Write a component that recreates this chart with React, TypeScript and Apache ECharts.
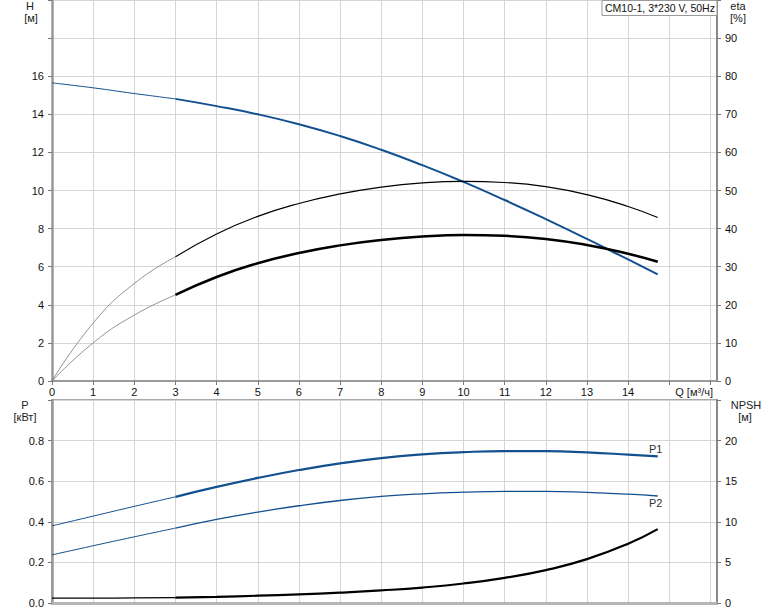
import React, { useEffect, useRef } from "react";
import * as echarts from "echarts";

// Flow rate Q [m³/h]
const qStart = [0, 1, 2, 3];
const qMain = [3, 4, 5, 6, 7, 8, 9, 10, 11, 12, 13, 14, 14.72];

// Head H [m]
const headStart = [15.65, 15.39, 15.09, 14.81];
const headMain = [14.81, 14.43, 14.0, 13.48, 12.86, 12.14, 11.33, 10.45, 9.5, 8.5, 7.46, 6.38, 5.6];

// Efficiency eta [%] (upper thin curve and lower thick curve)
const etaUpperStart = [0, 15.2, 25.6, 32.6];
const etaUpperMain = [32.6, 38.6, 43.2, 46.6, 49.1, 50.9, 52.0, 52.4, 52.1, 51.0, 48.9, 45.8, 42.9];
const etaLowerStart = [0, 10.0, 17.3, 22.6];
const etaLowerMain = [22.6, 27.3, 30.9, 33.6, 35.6, 37.0, 37.9, 38.3, 38.1, 37.3, 35.7, 33.4, 31.3];

// Power P [kW]
const p1Start = [0.38, 0.428, 0.476, 0.523];
const p1Main = [0.523, 0.572, 0.616, 0.655, 0.688, 0.714, 0.732, 0.743, 0.748, 0.748, 0.742, 0.731, 0.722];
const p2Start = [0.237, 0.282, 0.326, 0.369];
const p2Main = [0.369, 0.412, 0.448, 0.479, 0.505, 0.525, 0.538, 0.546, 0.55, 0.55, 0.545, 0.536, 0.527];

// NPSH [m]
const npshStart = [0.6, 0.6, 0.62, 0.66];
const npshMain = [0.66, 0.76, 0.9, 1.07, 1.28, 1.55, 1.9, 2.4, 3.1, 4.05, 5.4, 7.3, 9.1];

const xTickLabels = ["0", "1", "2", "3", "4", "5", "6", "7", "8", "9", "10", "11", "12", "13", "14"];

const title = "CM10-1, 3*230 V, 50Hz";
const FONT = "Liberation Sans, Arial, sans-serif";
const BLUE = "#13508f";

const zip = (xs: number[], ys: number[]) => xs.map((x, i) => [x, ys[i]]);

function line(name: string, xi: number, yi: number, xs: number[], ys: number[], color: string, width: number) {
  return {
    name,
    type: "line",
    xAxisIndex: xi,
    yAxisIndex: yi,
    data: zip(xs, ys),
    symbol: "none",
    smooth: 0.5,
    lineStyle: { color, width },
    silent: true,
    z: 3,
  };
}

export default function App() {
  const ref = useRef<HTMLDivElement>(null);
  useEffect(() => {
    if (!ref.current) return;
    const chart = echarts.init(ref.current, null, { renderer: "svg" });
    const labelStyle = { fontSize: 11, color: "#111", fontFamily: FONT };
    const split = { show: true, lineStyle: { color: "#d6d6d6", width: 1 } };
    const xLabel = (v: number) => (Number.isInteger(v) && v <= 14 ? xTickLabels[v] : "");

    const text = (x: number, y: number, t: string, align = "center") => ({
      type: "text",
      x,
      y,
      style: { text: t, fontSize: 11, fill: "#222", fontFamily: FONT, align, verticalAlign: "middle" },
      z: 50,
    });

    const option: any = {
      animation: false,
      backgroundColor: "#fff",
      grid: [
        { left: 52, right: 57, top: 0, height: 381 },
        { left: 52, right: 57, top: 400, height: 203, show: true, borderColor: "#a8a8a8", borderWidth: 2, backgroundColor: "transparent" },
      ],
      xAxis: [
        {
          type: "value", gridIndex: 0, min: 0, max: 16.16, interval: 1,
          axisLine: { show: true, onZero: false, lineStyle: { color: "#9a9a9a", width: 2 } },
          axisTick: { show: true, length: 4, lineStyle: { color: "#777" } },
          axisLabel: { ...labelStyle, margin: 5, formatter: xLabel, showMaxLabel: false },
          splitLine: split,
        },
        {
          type: "value", gridIndex: 1, min: 0, max: 16.16, interval: 1,
          axisLine: { show: true, onZero: false, lineStyle: { color: "#b5b5b5", width: 3 } },
          axisTick: { show: false },
          axisLabel: { show: false },
          splitLine: split,
        },
      ],
      yAxis: [
        {
          type: "value", gridIndex: 0, position: "left", min: 0, max: 20, interval: 2,
          axisLine: { show: true, lineStyle: { color: "#999", width: 2.5 } },
          axisTick: { show: true, length: 4, lineStyle: { color: "#777" } },
          axisLabel: { ...labelStyle, margin: 8, formatter: (v: number) => (v <= 16 ? String(v) : "") },
          splitLine: split,
        },
        {
          type: "value", gridIndex: 0, position: "right", min: 0, max: 100, interval: 10,
          axisLine: { show: true, lineStyle: { color: "#8a8a8a", width: 2 } },
          axisTick: { show: true, length: 4, lineStyle: { color: "#777" } },
          axisLabel: { ...labelStyle, margin: 8, formatter: (v: number) => (v <= 90 ? String(v) : "") },
          splitLine: { show: false },
        },
        {
          type: "value", gridIndex: 1, position: "left", min: 0, max: 1, interval: 0.2,
          axisLine: { show: true, lineStyle: { color: "#999", width: 2.5 } },
          axisTick: { show: true, length: 4, lineStyle: { color: "#777" } },
          axisLabel: { ...labelStyle, margin: 8, formatter: (v: number) => (v <= 0.9 ? v.toFixed(1) : "") },
          splitLine: split,
        },
        {
          type: "value", gridIndex: 1, position: "right", min: 0, max: 25, interval: 5,
          axisLine: { show: true, lineStyle: { color: "#8a8a8a", width: 2 } },
          axisTick: { show: true, length: 4, lineStyle: { color: "#777" } },
          axisLabel: { ...labelStyle, margin: 8, formatter: (v: number) => (v <= 20 ? String(v) : "") },
          splitLine: { show: false },
        },
      ],
      series: [
        line("H", 0, 0, qStart, headStart, BLUE, 1),
        line("H", 0, 0, qMain, headMain, BLUE, 2),
        line("eta1", 0, 1, qStart, etaUpperStart, "#777", 0.8),
        line("eta1", 0, 1, qMain, etaUpperMain, "#000", 1.2),
        line("eta2", 0, 1, qStart, etaLowerStart, "#777", 0.8),
        line("eta2", 0, 1, qMain, etaLowerMain, "#000", 2.5),
        line("P1", 1, 2, qStart, p1Start, BLUE, 1),
        line("P1", 1, 2, qMain, p1Main, BLUE, 2.2),
        line("P2", 1, 2, qStart, p2Start, BLUE, 1),
        line("P2", 1, 2, qMain, p2Main, BLUE, 1.3),
        line("NPSH", 1, 3, qStart, npshStart, "#000", 1.2),
        line("NPSH", 1, 3, qMain, npshMain, "#000", 2.2),
      ],
      graphic: [
        text(30, 6, "H"),
        text(31, 18, "[м]"),
        text(738, 6, "eta"),
        text(738, 18, "[%]"),
        text(25, 405, "P"),
        text(25, 417, "[кВт]"),
        text(746, 405, "NPSH"),
        text(745, 417, "[м]"),
        text(713, 392, "Q [м³/ч]", "right"),
        {
          type: "rect",
          shape: { x: 602, y: 0.5, width: 115, height: 15 },
          style: { fill: "#fff", stroke: "#999", lineWidth: 1 },
          z: 60,
        },
        {
          type: "text",
          x: 605,
          y: 8,
          style: { text: title, fontSize: 10.5, fill: "#111", fontFamily: FONT, align: "left", verticalAlign: "middle" },
          z: 61,
        },
      ],
    };
    chart.setOption(option);

    // Curve labels P1 / P2 placed at the curve ends via the chart's scales
    const lastQ = qMain[qMain.length - 1];
    const p1End = chart.convertToPixel({ xAxisIndex: 1, yAxisIndex: 2 } as any, [lastQ, p1Main[p1Main.length - 1]]) as number[];
    const p2End = chart.convertToPixel({ xAxisIndex: 1, yAxisIndex: 2 } as any, [lastQ, p2Main[p2Main.length - 1]]) as number[];
    chart.setOption({
      graphic: [
        ...option.graphic,
        { type: "text", x: p1End[0] - 2, y: p1End[1] - 7, style: { text: "P1", fontSize: 11, fill: "#333", fontFamily: FONT, align: "center", verticalAlign: "middle" }, z: 50 },
        { type: "text", x: p2End[0] - 2, y: p2End[1] + 7, style: { text: "P2", fontSize: 11, fill: "#333", fontFamily: FONT, align: "center", verticalAlign: "middle" }, z: 50 },
      ],
    });

    return () => chart.dispose();
  }, []);
  return <div ref={ref} style={{ position: "fixed", left: 0, top: 0, width: 774, height: 611 }} />;
}
